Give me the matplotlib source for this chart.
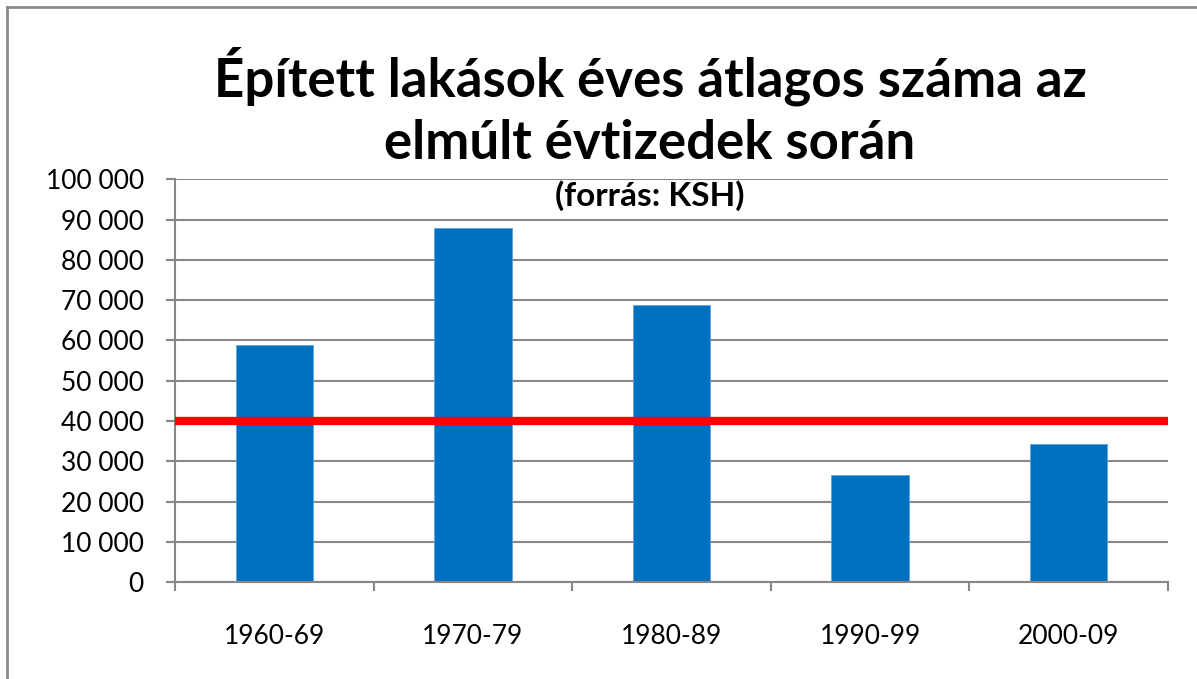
import matplotlib.pyplot as plt
from matplotlib.lines import Line2D
from matplotlib.ticker import FuncFormatter

# data
decades = ['1960-69', '1970-79', '1980-89', '1990-99', '2000-09']
built_per_year = [58800, 88000, 68700, 26600, 34200]
average_line = 40000

title = 'Épített lakások éves átlagos száma az\nelmúlt évtizedek során'
subtitle = '(forrás: KSH)'

plt.rcParams['font.family'] = ['Lato', 'DejaVu Sans']

W, H = 1197, 679
fig = plt.figure(figsize=(W / 100, H / 100), dpi=100)
ax = fig.add_axes([175 / W, (H - 582) / H, (1168 - 175) / W, (582 - 179.5) / H])

grid_col = '#878787'
pos = list(range(len(decades)))
ax.bar(pos, built_per_year, width=0.39, color='#0070C0', edgecolor='#5FA2DA',
       linewidth=0.6, zorder=2)
ax.axhline(average_line, color='#FF0000', lw=6, zorder=3, solid_capstyle='butt')

ax.set_xlim(-0.5, len(decades) - 0.5)
ax.set_ylim(0, 100000)
ax.set_yticks(range(0, 100001, 10000))
ax.yaxis.set_major_formatter(FuncFormatter(lambda v, p: f'{int(v):,}'.replace(',', ' ')))
ax.grid(axis='y', color=grid_col, lw=1.5, zorder=1)

# category boundaries get the ticks, centres get the labels
ax.set_xticks([i - 0.5 for i in range(len(decades) + 1)])
ax.set_xticklabels([])
ax.set_xticks(pos, minor=True)
ax.set_xticklabels(decades, minor=True)
ax.tick_params(axis='x', which='major', length=6.5, width=1.5, color=grid_col, direction='out')
ax.tick_params(axis='x', which='minor', length=0, pad=30, labelsize=19)
ax.tick_params(axis='y', length=6.5, width=1.5, color=grid_col, pad=16, labelsize=19)

for s in ['top', 'right']:
    ax.spines[s].set_visible(False)
for s in ['left', 'bottom']:
    ax.spines[s].set_color(grid_col)
    ax.spines[s].set_linewidth(1.5)

fig.text(650 / W, 1 - 107 / H, title, ha='center', va='center', fontsize=38,
         fontweight='bold', linespacing=1.32)
fig.text(650 / W, 1 - 196 / H, subtitle, ha='center', va='center', fontsize=24,
         fontweight='bold')

# chart frame (only top and left edges visible in the crop)
fig.add_artist(Line2D([7 / W, 7 / W], [0, 1 - 7 / H], color='#8C8C8C', lw=2))
fig.add_artist(Line2D([7 / W, 1], [1 - 7 / H, 1 - 7 / H], color='#8C8C8C', lw=2))

plt.savefig('out.png', dpi=100)
